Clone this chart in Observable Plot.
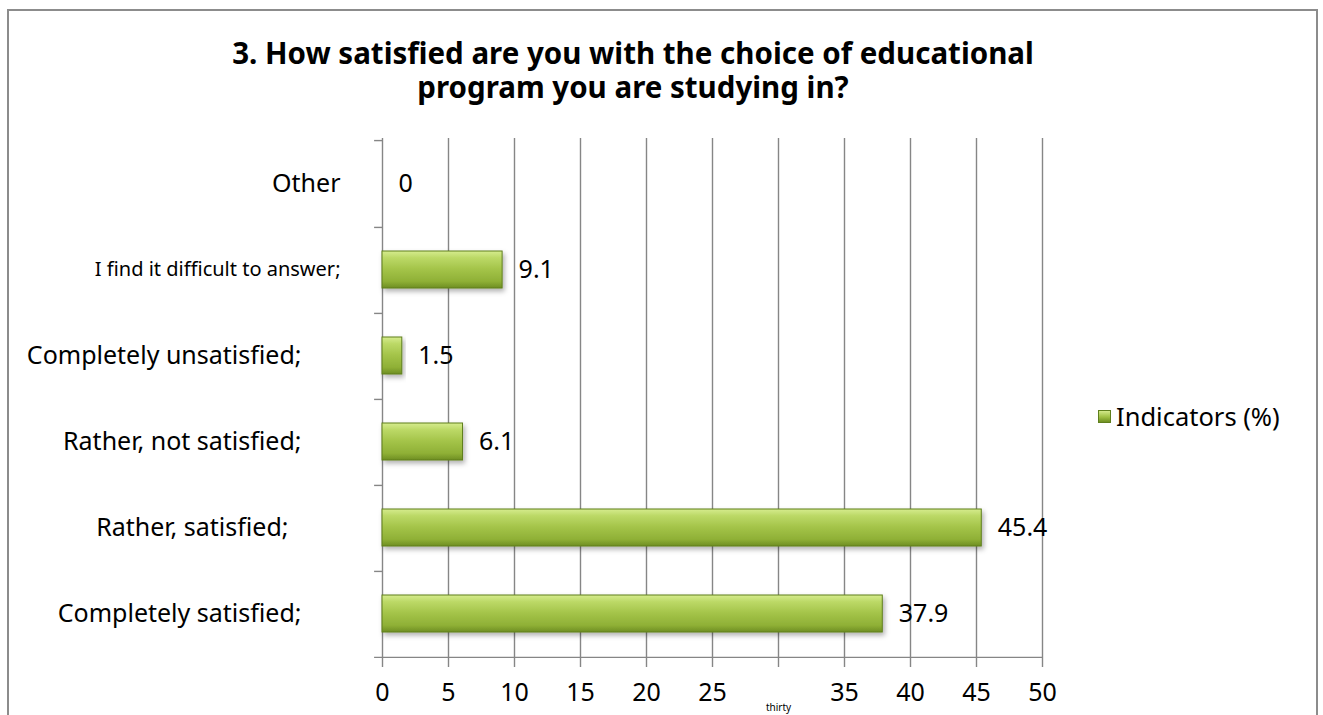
<!DOCTYPE html>
<html><head><meta charset="utf-8">
<script src="https://cdn.jsdelivr.net/npm/d3@7"></script>
<script src="https://cdn.jsdelivr.net/npm/@observablehq/plot@0.6"></script>
<style>
body{margin:0;background:#fff;font-family:"Noto Sans",sans-serif;}
#wrap{position:relative;width:1323px;height:715px;overflow:hidden;background:#fff;}
#frame{position:absolute;left:7px;top:9px;width:1311px;height:800px;border:2px solid #8c8c8c;box-sizing:border-box;}
#title{position:absolute;left:133px;width:1000px;top:36px;text-align:center;font-weight:bold;font-size:29.5px;line-height:34px;color:#000;}
#legend{position:absolute;left:1098px;top:399px;font-size:25.5px;line-height:34px;display:flex;align-items:center;color:#000;}
#legend .sw{width:13px;height:13px;margin-right:5px;box-sizing:border-box;border:1px solid #5f7f1d;background:linear-gradient(#d2e98a,#9fc043 55%,#6f8f22);}
#chart{position:absolute;left:0;top:0;}
</style></head>
<body>
<div id="wrap">
  <div id="frame"></div>
  <div id="chart"></div>
  <div id="title">3. How satisfied are you with the choice of educational<br>program you are studying in?</div>
  <div id="legend"><span class="sw"></span><span>Indicators (%)</span></div>
</div>
<script>
const categories = ["Other", "I find it difficult to answer;", "Completely unsatisfied;", "Rather, not satisfied;", "Rather, satisfied;", "Completely satisfied;"];
const axisLabels = ["Other", "I find it difficult to answer;", "Completely unsatisfied;\u00a0\u00a0\u00a0\u00a0\u00a0\u00a0", "Rather, not satisfied;\u00a0\u00a0\u00a0\u00a0\u00a0\u00a0", "Rather, satisfied;\u00a0\u00a0\u00a0\u00a0\u00a0\u00a0\u00a0\u00a0", "Completely satisfied;\u00a0\u00a0\u00a0\u00a0\u00a0\u00a0"];
const values = [0, 9.1, 1.5, 6.1, 45.4, 37.9];
const xTicks = [0, 5, 10, 15, 20, 25, 30, 35, 40, 45, 50];
const xTickLabels = ["0", "5", "10", "15", "20", "25", "thirty", "35", "40", "45", "50"];
const seriesName = "Indicators (%)";

const data = categories.map((c, i) => ({category: c, value: values[i]}));
const W = 1323, H = 715, mTop = 138, mBottom = 56, mLeft = 382, mRight = 281;
const step = (H - mTop - mBottom) / categories.length;
const grid = "#868686";

const chart = Plot.plot({
  width: W, height: H,
  marginTop: mTop, marginBottom: mBottom, marginLeft: mLeft, marginRight: mRight,
  style: {fontFamily: "'Noto Sans', sans-serif", fontSize: "25px", color: "#000", background: "transparent"},
  x: {domain: [0, 50]},
  y: {domain: categories, paddingInner: 0.575, paddingOuter: 0.2875},
  marks: [
    Plot.ruleX(xTicks, {stroke: grid, strokeWidth: 1.4}),
    Plot.ruleY(categories.slice(0, 1), {y: d => d, dy: -step / 2, x1: -0.6, x2: 0, stroke: grid, strokeWidth: 1.4}),
    Plot.ruleY(categories.slice(0, -1), {y: d => d, dy: step / 2, x1: -0.6, x2: 0, stroke: grid, strokeWidth: 1.4}),
    Plot.ruleY(categories.slice(-1), {y: d => d, dy: step / 2, x1: -0.6, x2: 50, stroke: grid, strokeWidth: 1.4}),
    Plot.barX(data, {x: "value", y: "category", fill: "url(#barGrad)", stroke: "#5f7f1d", strokeWidth: 1, filter: d => d.value > 0}),
    Plot.text(data, {x: "value", y: "category", text: d => String(d.value), dx: 16, textAnchor: "start", fontSize: 25, fill: "#000"}),
    Plot.axisX(xTicks, {tickSize: 8, tickPadding: 16, stroke: grid, strokeWidth: 1.4, fontSize: 25, tickFormat: (d, i) => xTickLabels[xTicks.indexOf(d)], label: null}),
    Plot.axisY({tickSize: 0, tickPadding: 42, fontSize: 25, tickFormat: d => axisLabels[categories.indexOf(d)], label: null})
  ]
});

const svg = d3.select(chart);
const defs = svg.insert("defs", ":first-child");
const g = defs.append("linearGradient").attr("id", "barGrad").attr("x1", 0).attr("y1", 0).attr("x2", 0).attr("y2", 1);
[[0, "#d6ec8e"], [0.18, "#bcd967"], [0.5, "#a3c348"], [0.82, "#8fb036"], [1, "#6e8e22"]].forEach(([o, c]) => g.append("stop").attr("offset", o).attr("stop-color", c));
const f = defs.append("filter").attr("id", "shadow").attr("x", "-10%").attr("y", "-30%").attr("width", "130%").attr("height", "180%");
f.append("feDropShadow").attr("dx", 2).attr("dy", 3).attr("stdDeviation", 2.5).attr("flood-color", "#000").attr("flood-opacity", 0.3);
svg.selectAll("g[aria-label='bar'] rect").attr("filter", "url(#shadow)");
svg.selectAll("text").filter(function() { return this.textContent === "thirty"; }).attr("font-size", 10).attr("dy", 20);
svg.selectAll("text").filter(function() { return this.textContent === "I find it difficult to answer;"; }).attr("font-size", 20);
document.getElementById("chart").appendChild(chart);
</script>
</body></html>
